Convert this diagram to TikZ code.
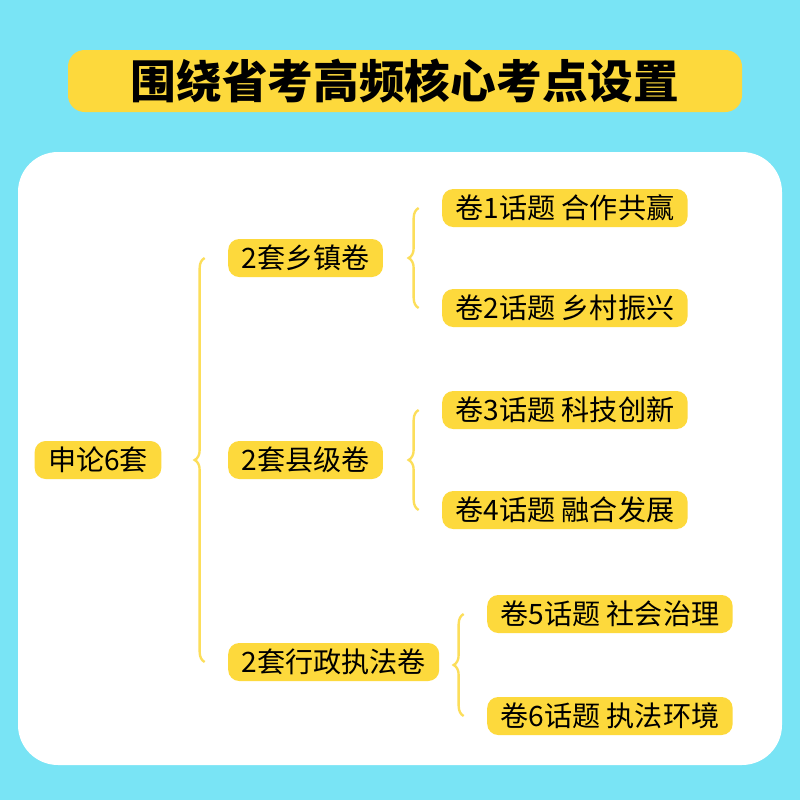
\documentclass[tikz,border=0pt]{standalone}
\usepackage{fontspec}
\setmainfont{Noto Sans CJK SC}
\usetikzlibrary{positioning,calc,decorations.pathreplacing}
\definecolor{bgcyan}{RGB}{121,228,245}
\definecolor{tagyellow}{RGB}{253,217,60}
\definecolor{linkyellow}{RGB}{252,222,90}
\begin{document}
\begin{tikzpicture}[
        x=0.03cm, y=-0.03cm,
        tag/.style={rectangle, rounded corners=0.33cm, fill=tagyellow, inner xsep=0.4cm, minimum height=1.14cm, font=\fontsize{24}{26}\selectfont},
        brace/.style={draw=linkyellow, line width=2pt, decorate, decoration={brace, amplitude=0.3cm}}
    ]
        \fill[bgcyan] (0,0) rectangle (800,800);
        \fill[tagyellow, rounded corners=0.5cm] (68,50) rectangle (742,112);
        \node[font=\fontsize{39}{42}\selectfont\bfseries] (title) at (405,81) {围绕省考高频核心考点设置};
        \fill[white, rounded corners=1.2cm] (18,152) rectangle (782,765);

        \node[tag] (root) at (98,460) {申论6套};
        \node[tag, anchor=west] (xz) at (228,258) {2套乡镇卷};
        \node[tag, anchor=west] (xj) at (228,460) {2套县级卷};
        \node[tag, anchor=west] (zf) at (228,662) {2套行政执法卷};

        \node[tag, anchor=west] (j1) at (442,208) {卷1话题 合作共赢};
        \node[tag, anchor=west] (j2) at (442,308) {卷2话题 乡村振兴};
        \node[tag, anchor=west] (j3) at (442,410) {卷3话题 科技创新};
        \node[tag, anchor=west] (j4) at (442,510) {卷4话题 融合发展};
        \node[tag, anchor=west] (j5) at (487,614) {卷5话题 社会治理};
        \node[tag, anchor=west] (j6) at (487,716) {卷6话题 执法环境};

        \draw[brace] ([xshift=-0.7cm]zf.west) -- ([xshift=-0.7cm]zf.west |- xz.west);
        \draw[brace] ([xshift=-0.7cm]j2.west) -- ([xshift=-0.7cm]j1.west);
        \draw[brace] ([xshift=-0.7cm]j4.west) -- ([xshift=-0.7cm]j3.west);
        \draw[brace] ([xshift=-0.7cm]j6.west) -- ([xshift=-0.7cm]j5.west);
    \end{tikzpicture}
\end{document}
